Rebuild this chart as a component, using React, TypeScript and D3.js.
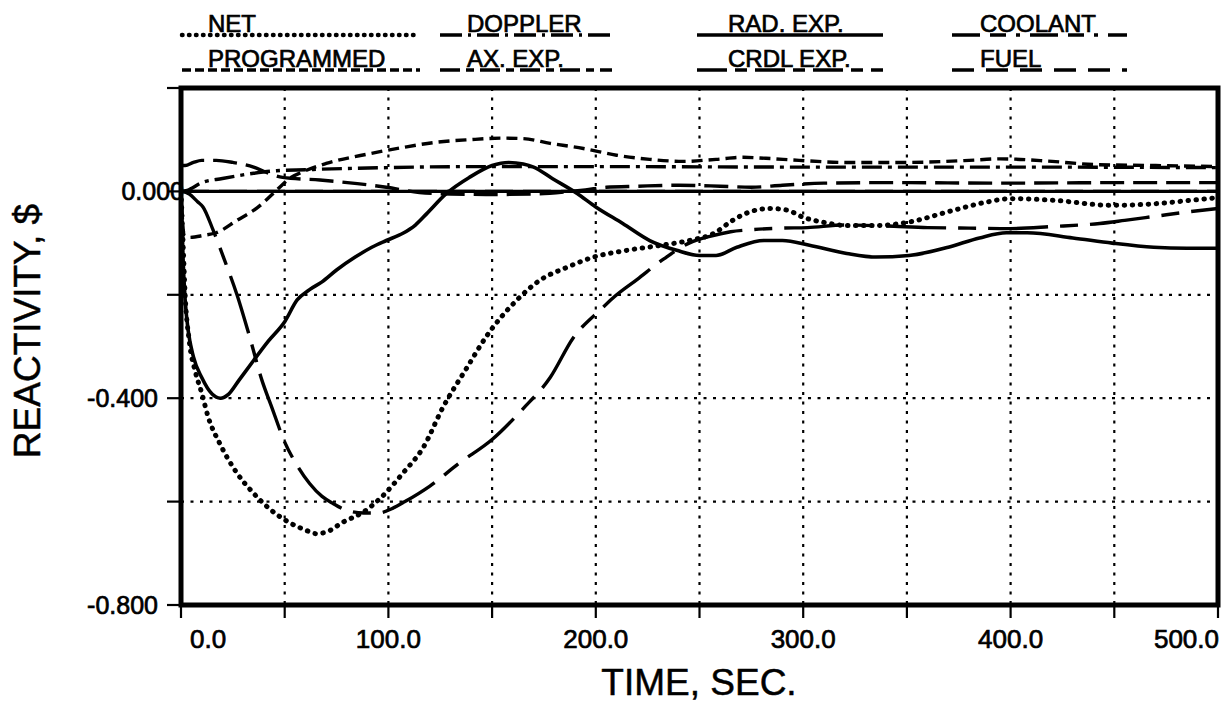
import React from 'react';
import * as d3 from 'd3';

// ---------- axis ticks ----------
const xTickValues = [0, 50, 100, 150, 200, 250, 300, 350, 400, 450, 500];
const xLabelValues = [0, 100, 200, 300, 400, 500];
const xLabelText = ['0.0', '100.0', '200.0', '300.0', '400.0', '500.0'];
const yTickValues = [0.2, 0, -0.2, -0.4, -0.6, -0.8];
const yLabelValues = [0, -0.4, -0.8];
const yLabelText = ['0.000', '-0.400', '-0.800'];
const xGridValues = [50, 100, 150, 200, 250, 300, 350, 400, 450];
const yGridValues = [-0.2, -0.4, -0.6];

// ---------- series data [time, reactivity $] ----------
const netData: [number, number][] = [
  [0, 0], [1, -0.1], [2, -0.2], [4, -0.29], [7, -0.35], [10, -0.39], [13, -0.435], [19, -0.49],
  [27, -0.545], [35, -0.584], [43, -0.615], [52, -0.64], [60, -0.655], [65, -0.662], [70, -0.659],
  [78, -0.64], [88, -0.62], [97, -0.59], [107, -0.545], [117, -0.494], [126, -0.42], [138, -0.34],
  [147, -0.282], [162, -0.21], [173, -0.172], [186, -0.147], [199, -0.127], [215, -0.114],
  [232, -0.104], [245, -0.095], [257, -0.081], [266, -0.056], [274, -0.04], [284, -0.033],
  [292, -0.036], [300, -0.05], [310, -0.06], [321, -0.066], [335, -0.066], [350, -0.06],
  [372, -0.037], [388, -0.021], [400, -0.014], [420, -0.017], [449, -0.027], [469, -0.024],
  [485, -0.018], [500, -0.012],
];

const programmedData: [number, number][] = [
  [0, 0], [1.5, -0.085], [4, -0.089], [11, -0.085], [17, -0.08], [27, -0.056], [37, -0.031],
  [46, 0.002], [52, 0.024], [60, 0.04], [70, 0.054], [91, 0.073], [107, 0.085], [123, 0.095],
  [139, 0.1], [155, 0.103], [165, 0.102], [178, 0.093], [194, 0.083], [210, 0.07], [226, 0.062],
  [242, 0.058], [258, 0.062], [271, 0.066], [282, 0.064], [298, 0.06], [321, 0.056], [350, 0.056],
  [380, 0.06], [395, 0.063], [420, 0.058], [440, 0.052], [470, 0.05], [500, 0.048],
];

const dopplerData: [number, number][] = [
  [0, 0], [3, 0.002], [10, 0.017], [20, 0.025], [35, 0.035], [46, 0.04], [60, 0.042], [100, 0.046],
  [140, 0.048], [200, 0.048], [300, 0.047], [400, 0.047], [500, 0.046],
];

const axExpData: [number, number][] = [
  [0, 0.05], [2, 0.05], [6, 0.056], [10, 0.06], [17, 0.06], [25, 0.056], [35, 0.047], [41, 0.037],
  [49, 0.027], [67, 0.022], [85, 0.015], [99, 0.008], [115, -0.002], [130, -0.005], [150, -0.006],
  [170, -0.005], [185, -0.001], [195, 0.003], [205, 0.008], [220, 0.01], [240, 0.012], [260, 0.01],
  [275, 0.008], [290, 0.012], [310, 0.016], [340, 0.017], [400, 0.016], [450, 0.017], [500, 0.017],
];

const radExpData: [number, number][] = [
  [0, 0], [0.5, -0.06], [1, -0.13], [2, -0.21], [3.5, -0.27], [6, -0.32], [10, -0.36], [15, -0.392],
  [19, -0.4], [23, -0.392], [28, -0.365], [35, -0.327], [42, -0.29], [50, -0.252], [56, -0.21],
  [62, -0.19], [68, -0.175], [75, -0.152], [84, -0.127], [92, -0.108], [99, -0.095], [107, -0.081],
  [113, -0.065], [118.5, -0.043], [128, -0.004], [139, 0.027], [150, 0.05], [158, 0.056],
  [165, 0.053], [170, 0.047], [179, 0.025], [191, -0.004], [200, -0.03], [213, -0.062],
  [226, -0.095], [239, -0.114], [250, -0.124], [258, -0.124], [268, -0.108], [281, -0.095],
  [290, -0.095], [303, -0.104], [321, -0.12], [335, -0.127], [351, -0.124], [370, -0.108],
  [385, -0.09], [398, -0.08], [408, -0.08], [430, -0.09], [449, -0.1], [469, -0.108],
  [485, -0.11], [500, -0.11],
];

const crdlExpData: [number, number][] = [
  [0, 0], [100, 0], [200, 0], [300, 0], [400, 0], [500, 0],
];

const coolantData: [number, number][] = [
  [0, 0], [100, 0], [200, 0], [300, 0], [400, 0], [500, 0],
];

const fuelData: [number, number][] = [
  [0, 0], [4, -0.005], [8, -0.02], [10.6, -0.03], [15.5, -0.075], [21, -0.133], [27, -0.2],
  [33, -0.28], [39, -0.365], [44, -0.42], [50, -0.485], [56, -0.53], [62, -0.565], [68, -0.59],
  [73, -0.603], [80, -0.617], [88, -0.622], [95, -0.622], [102, -0.613], [108, -0.6], [120, -0.57],
  [134, -0.526], [150, -0.48], [165, -0.42], [178, -0.36], [189, -0.284], [203, -0.226],
  [208, -0.207], [220, -0.17], [233, -0.13], [245, -0.1], [255, -0.087], [265, -0.078],
  [275, -0.074], [290, -0.071], [302, -0.07], [320, -0.065], [340, -0.067], [360, -0.07],
  [380, -0.071], [400, -0.072], [420, -0.068], [443, -0.062], [455, -0.056], [470, -0.048],
  [485, -0.04], [500, -0.033],
];

const seriesNames = ['NET', 'PROGRAMMED', 'DOPPLER', 'AX. EXP.', 'RAD. EXP.', 'CRDL EXP.', 'COOLANT', 'FUEL'];
const seriesData = [netData, programmedData, dopplerData, axExpData, radExpData, crdlExpData, coolantData, fuelData];

// plot styles (by series index)
const plotDash = ['0.5,7.5', '11,6', '20,6,4,6', '24,9', '', '', '28,10', '60,12,18,12'];
const plotWidth = [5, 3.4, 3.4, 3.4, 3.6, 3.4, 3.4, 3.4];
const plotCap: ('round' | 'butt')[] = ['round', 'butt', 'butt', 'butt', 'round', 'butt', 'butt', 'butt'];

// legend styles / positions
const legendDash = ['0.5,6.5', '9,4', '22,6,3,6', '20,6,8,6', '', '30,8,12,8', '28,10,16,10,4,10', '22,12'];
const legendCol = [0, 0, 1, 1, 2, 2, 3, 3];
const legendRow = [0, 1, 0, 1, 0, 1, 0, 1];
const legendLineX0 = [182, 440, 697, 952];
const legendLineX1 = [420, 612, 883, 1127];
const legendTextX = [208, 467, 728, 980];
const legendLineY = [35, 70];

const FONT = '"Liberation Sans", Arial, Helvetica, sans-serif';
const TEXT_STROKE = 0.7;

export default function App() {
  const W = 1225;
  const H = 704;
  const L = 181, R = 1218, T = 88, B = 605;
  const x = d3.scaleLinear().domain([0, 500]).range([L, R]);
  const y = d3.scaleLinear().domain([-0.8, 0.2]).range([B, T]);
  const line = d3
    .line<[number, number]>()
    .x((d) => x(d[0]))
    .y((d) => y(d[1]))
    .curve(d3.curveMonotoneX);

  const textProps = { fill: '#000', stroke: '#000', strokeWidth: TEXT_STROKE };

  return (
    <svg
      width={W}
      height={H}
      viewBox={`0 0 ${W} ${H}`}
      style={{ position: 'absolute', left: 0, top: 0, background: '#fff' }}
      fontFamily={FONT}
    >
      <rect x={0} y={0} width={W} height={H} fill="#fff" />
      <defs>
        <clipPath id="plotClip">
          <rect x={L} y={T} width={R - L} height={B - T} />
        </clipPath>
      </defs>

      {/* grid */}
      {xGridValues.map((v) => (
        <line key={'gx' + v} x1={x(v)} x2={x(v)} y1={T} y2={B} stroke="#000" strokeWidth={2.2} strokeDasharray="3,6.5" />
      ))}
      {yGridValues.map((v) => (
        <line key={'gy' + v} x1={L} x2={R} y1={y(v)} y2={y(v)} stroke="#000" strokeWidth={2.2} strokeDasharray="3,6.5" />
      ))}

      {/* series */}
      <g clipPath="url(#plotClip)">
        {seriesData.map((d, i) => (
          <path
            key={seriesNames[i]}
            d={line(d) || ''}
            fill="none"
            stroke="#000"
            strokeWidth={plotWidth[i]}
            strokeDasharray={plotDash[i] || undefined}
            strokeLinecap={plotCap[i]}
            strokeLinejoin="round"
          />
        ))}
      </g>

      {/* frame */}
      <rect x={L} y={T} width={R - L} height={B - T} fill="none" stroke="#000" strokeWidth={5} />

      {/* ticks */}
      {yTickValues.map((v) => (
        <line key={'ty' + v} x1={L - 14} x2={L} y1={y(v)} y2={y(v)} stroke="#000" strokeWidth={2.2} />
      ))}
      {xTickValues.map((v) => (
        <line key={'tx' + v} x1={x(v)} x2={x(v)} y1={B} y2={B + 13} stroke="#000" strokeWidth={2.2} />
      ))}

      {/* tick labels */}
      {yLabelValues.map((v, i) => (
        <text
          key={'ly' + v}
          x={v === 0 ? L + 3 : L - 23}
          y={y(v) + 9}
          textAnchor="end"
          fontSize={25}
          {...textProps}
        >
          {yLabelText[i]}
        </text>
      ))}
      {xLabelValues.map((v, i) => {
        const first = i === 0;
        const last = i === xLabelValues.length - 1;
        return (
          <text
            key={'lx' + v}
            x={first ? L + 9 : last ? R + 1 : x(v)}
            y={648}
            textAnchor={first ? 'start' : last ? 'end' : 'middle'}
            fontSize={26}
            {...textProps}
          >
            {xLabelText[i]}
          </text>
        );
      })}

      {/* axis titles */}
      <text x={699} y={695} textAnchor="middle" fontSize={37} {...textProps} strokeWidth={0.5}>
        TIME, SEC.
      </text>
      <text
        transform={`translate(40, 331) rotate(-90)`}
        textAnchor="middle"
        fontSize={37}
        {...textProps}
        strokeWidth={0.5}
      >
        REACTIVITY, $
      </text>

      {/* legend */}
      {seriesNames.map((name, i) => {
        const c = legendCol[i];
        const ly = legendLineY[legendRow[i]];
        return (
          <g key={'lg' + name}>
            <line
              x1={legendLineX0[c]}
              x2={legendLineX1[c]}
              y1={ly}
              y2={ly}
              stroke="#000"
              strokeWidth={i === 0 ? 4.5 : 3.4}
              strokeDasharray={legendDash[i] || undefined}
              strokeLinecap={i === 0 ? 'round' : 'butt'}
            />
            <text x={legendTextX[c]} y={ly - 3} fontSize={24} {...textProps}>
              {name}
            </text>
          </g>
        );
      })}
    </svg>
  );
}
